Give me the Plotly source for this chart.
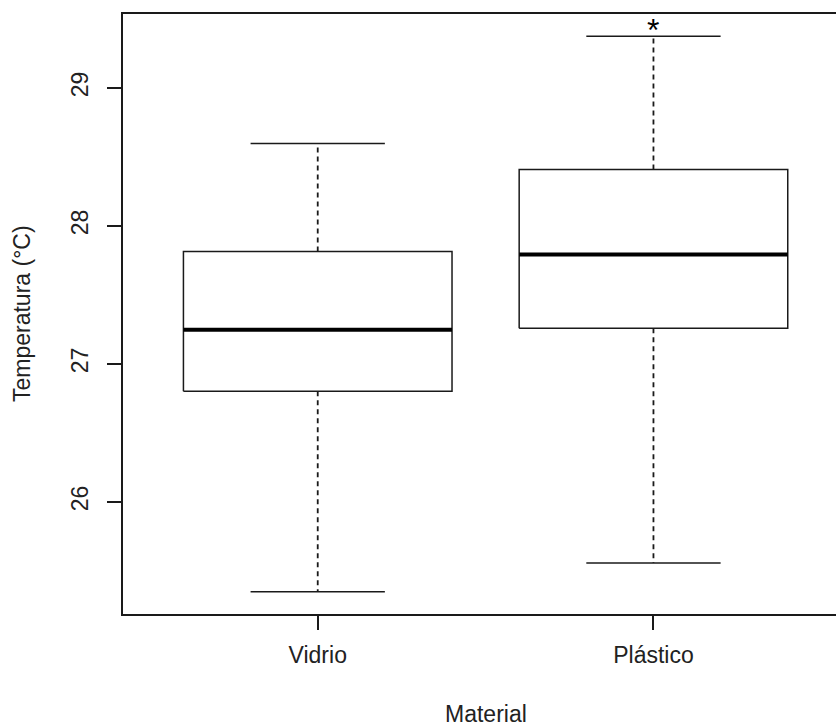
import plotly.graph_objects as go

categories = ["Vidrio", "Plástico"]
lower_whisker = [25.348, 25.556]
q1 = [26.801, 27.258]
median = [27.247, 27.793]
q3 = [27.815, 28.408]
upper_whisker = [28.597, 29.375]
sig_marker_y = 29.455  # "*" annotation above Plástico

y_ticks = [26, 27, 28, 29]

BOX_HALF = 0.4
CAP_HALF = 0.2
LINE = "#1a1a1a"
TEXT = "#222222"
FONT = "Liberation Sans, Arial, sans-serif"
LW = 1.5

fig = go.Figure()
for i, cat in enumerate(categories):
    xc = i + 1
    # whiskers (dashed)
    fig.add_trace(go.Scatter(x=[xc, xc], y=[q3[i], upper_whisker[i]], mode="lines",
                             line=dict(color=LINE, width=LW + 0.3, dash="5px,4px"),
                             hoverinfo="skip", showlegend=False))
    fig.add_trace(go.Scatter(x=[xc, xc], y=[q1[i], lower_whisker[i]], mode="lines",
                             line=dict(color=LINE, width=LW + 0.3, dash="5px,4px"),
                             hoverinfo="skip", showlegend=False))
    # caps
    for v in (upper_whisker[i], lower_whisker[i]):
        fig.add_trace(go.Scatter(x=[xc - CAP_HALF, xc + CAP_HALF], y=[v, v], mode="lines",
                                 line=dict(color=LINE, width=LW),
                                 hoverinfo="skip", showlegend=False))
    # box
    fig.add_trace(go.Scatter(
        x=[xc - BOX_HALF, xc + BOX_HALF, xc + BOX_HALF, xc - BOX_HALF, xc - BOX_HALF],
        y=[q1[i], q1[i], q3[i], q3[i], q1[i]],
        mode="lines", fill="toself", fillcolor="white",
        line=dict(color=LINE, width=LW), name=cat, showlegend=False))
    # median
    fig.add_trace(go.Scatter(x=[xc - BOX_HALF, xc + BOX_HALF], y=[median[i], median[i]],
                             mode="lines", line=dict(color="black", width=4),
                             hoverinfo="skip", showlegend=False))

fig.add_annotation(x=2, y=sig_marker_y, xref="x", yref="y", text="*", showarrow=False,
                   font=dict(family=FONT, size=32, color="black"),
                   xanchor="center", yanchor="middle", yshift=-5)

fig.add_annotation(x=0, y=0, xref="paper", yref="paper",
                   text="Material", showarrow=False,
                   font=dict(family=FONT, size=23, color=TEXT),
                   xanchor="center", yanchor="middle",
                   xshift=485.5 - 123, yshift=-(714 - 614))

fig.add_annotation(x=0, y=0.5, xref="paper", yref="paper", text="Temperatura (°C)",
                   showarrow=False, textangle=-90,
                   font=dict(family=FONT, size=23, color=TEXT),
                   xanchor="center", yanchor="middle", xshift=22 - 123)

fig.update_layout(
    width=837, height=727,
    margin=dict(l=123, r=1, t=14, b=113),
    paper_bgcolor="white", plot_bgcolor="white",
    font=dict(family=FONT, size=23, color=TEXT),
    xaxis=dict(range=[0.42, 2.5437], tickvals=[1, 2], ticktext=categories,
               showgrid=False, zeroline=False, showline=True, mirror=True,
               linecolor=LINE, linewidth=LW, ticks="outside", ticklen=14,
               tickcolor=LINE, tickwidth=LW, ticklabelstandoff=6),
    yaxis=dict(range=[25.187, 29.536], tickvals=y_ticks,
               ticktext=[str(t) for t in y_ticks],
               showgrid=False, zeroline=False, showline=True, mirror=False,
               linecolor=LINE, linewidth=LW, ticks="outside", ticklen=14,
               tickcolor=LINE, tickwidth=LW, tickangle=-90, ticklabelstandoff=10),
)

fig.write_html("out.html")
